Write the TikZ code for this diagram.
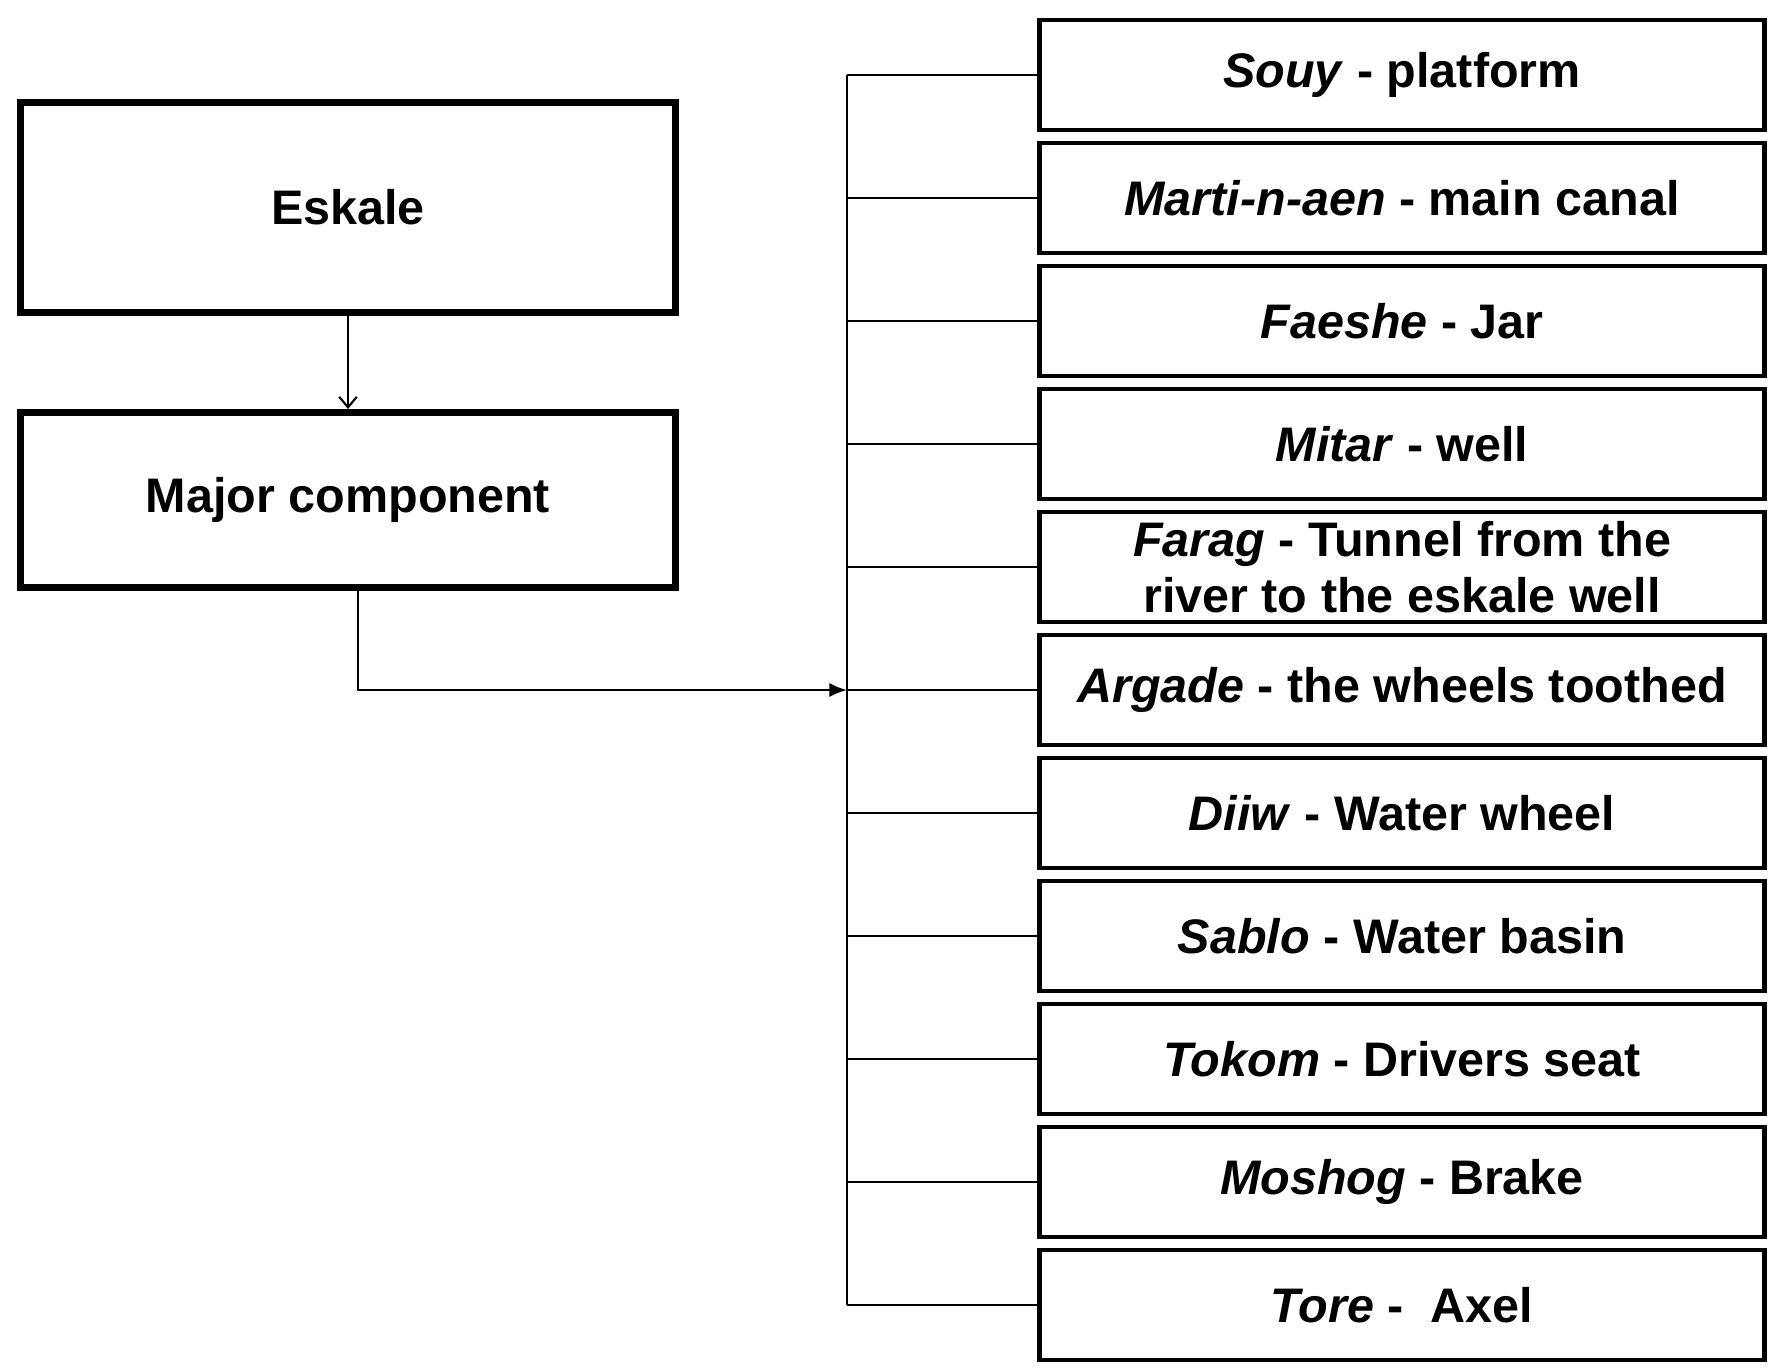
\documentclass[tikz,border=0pt]{standalone}
\usepackage{fontspec}
\setmainfont{Liberation Sans}
\usetikzlibrary{arrows.meta}
\begin{document}
\begin{tikzpicture}[
    font=\fontsize{13.8}{16}\selectfont\bfseries,
    topbox/.style={draw, line width=2pt, minimum width=6.55cm, align=center},
    partbox/.style={draw, line width=1.3pt, minimum width=7.25cm, minimum height=1.1cm, inner sep=2pt, align=center},
    link/.style={line width=0.6pt},
    feed/.style={-{Latex[length=5pt,width=4pt]}, line width=0.6pt}
]
\useasboundingbox (0,0) rectangle (17.79,-13.67);

% Bloques principales
\node[topbox, minimum height=2.1cm] (eskale) at (3.48,-2.07) {Eskale};
\node[topbox, minimum height=1.75cm] (major) at (3.48,-5.0) {Major component};
\draw[link, -{Straight Barb[length=3pt,width=5pt]}] (eskale.south) -- (major.north);

% Componentes
\foreach \n/\txt [count=\i from 0] in {
    souy/{\textit{Souy} - platform},
    marti/{\textit{Marti-n-aen} - main canal},
    faeshe/{\textit{Faeshe} - Jar},
    mitar/{\textit{Mitar} - well},
    farag/{\textit{Farag} - Tunnel from the\\river to the eskale well},
    argade/{\textit{Argade} - the wheels toothed},
    diiw/{\textit{Diiw} - Water wheel},
    sablo/{\textit{Sablo} - Water basin},
    tokom/{\textit{Tokom} - Drivers seat},
    moshog/{\textit{Moshog} - Brake},
    tore/{\textit{Tore} - \ Axel}}
  \node[partbox] (\n) at (14.02,{-0.75-1.23*\i}) {\txt};

% Barra de conexion
\coordinate (bus) at (8.47,0);
\draw[link] (bus |- souy.west) -- (bus |- tore.west);
\foreach \n in {souy,marti,faeshe,mitar,farag,argade,diiw,sablo,tokom,moshog,tore}
  \draw[link] (bus |- \n.west) -- (\n.west);

\draw[feed] ([xshift=0.1cm]major.south) |- (bus |- argade.west);

\end{tikzpicture}
\end{document}
